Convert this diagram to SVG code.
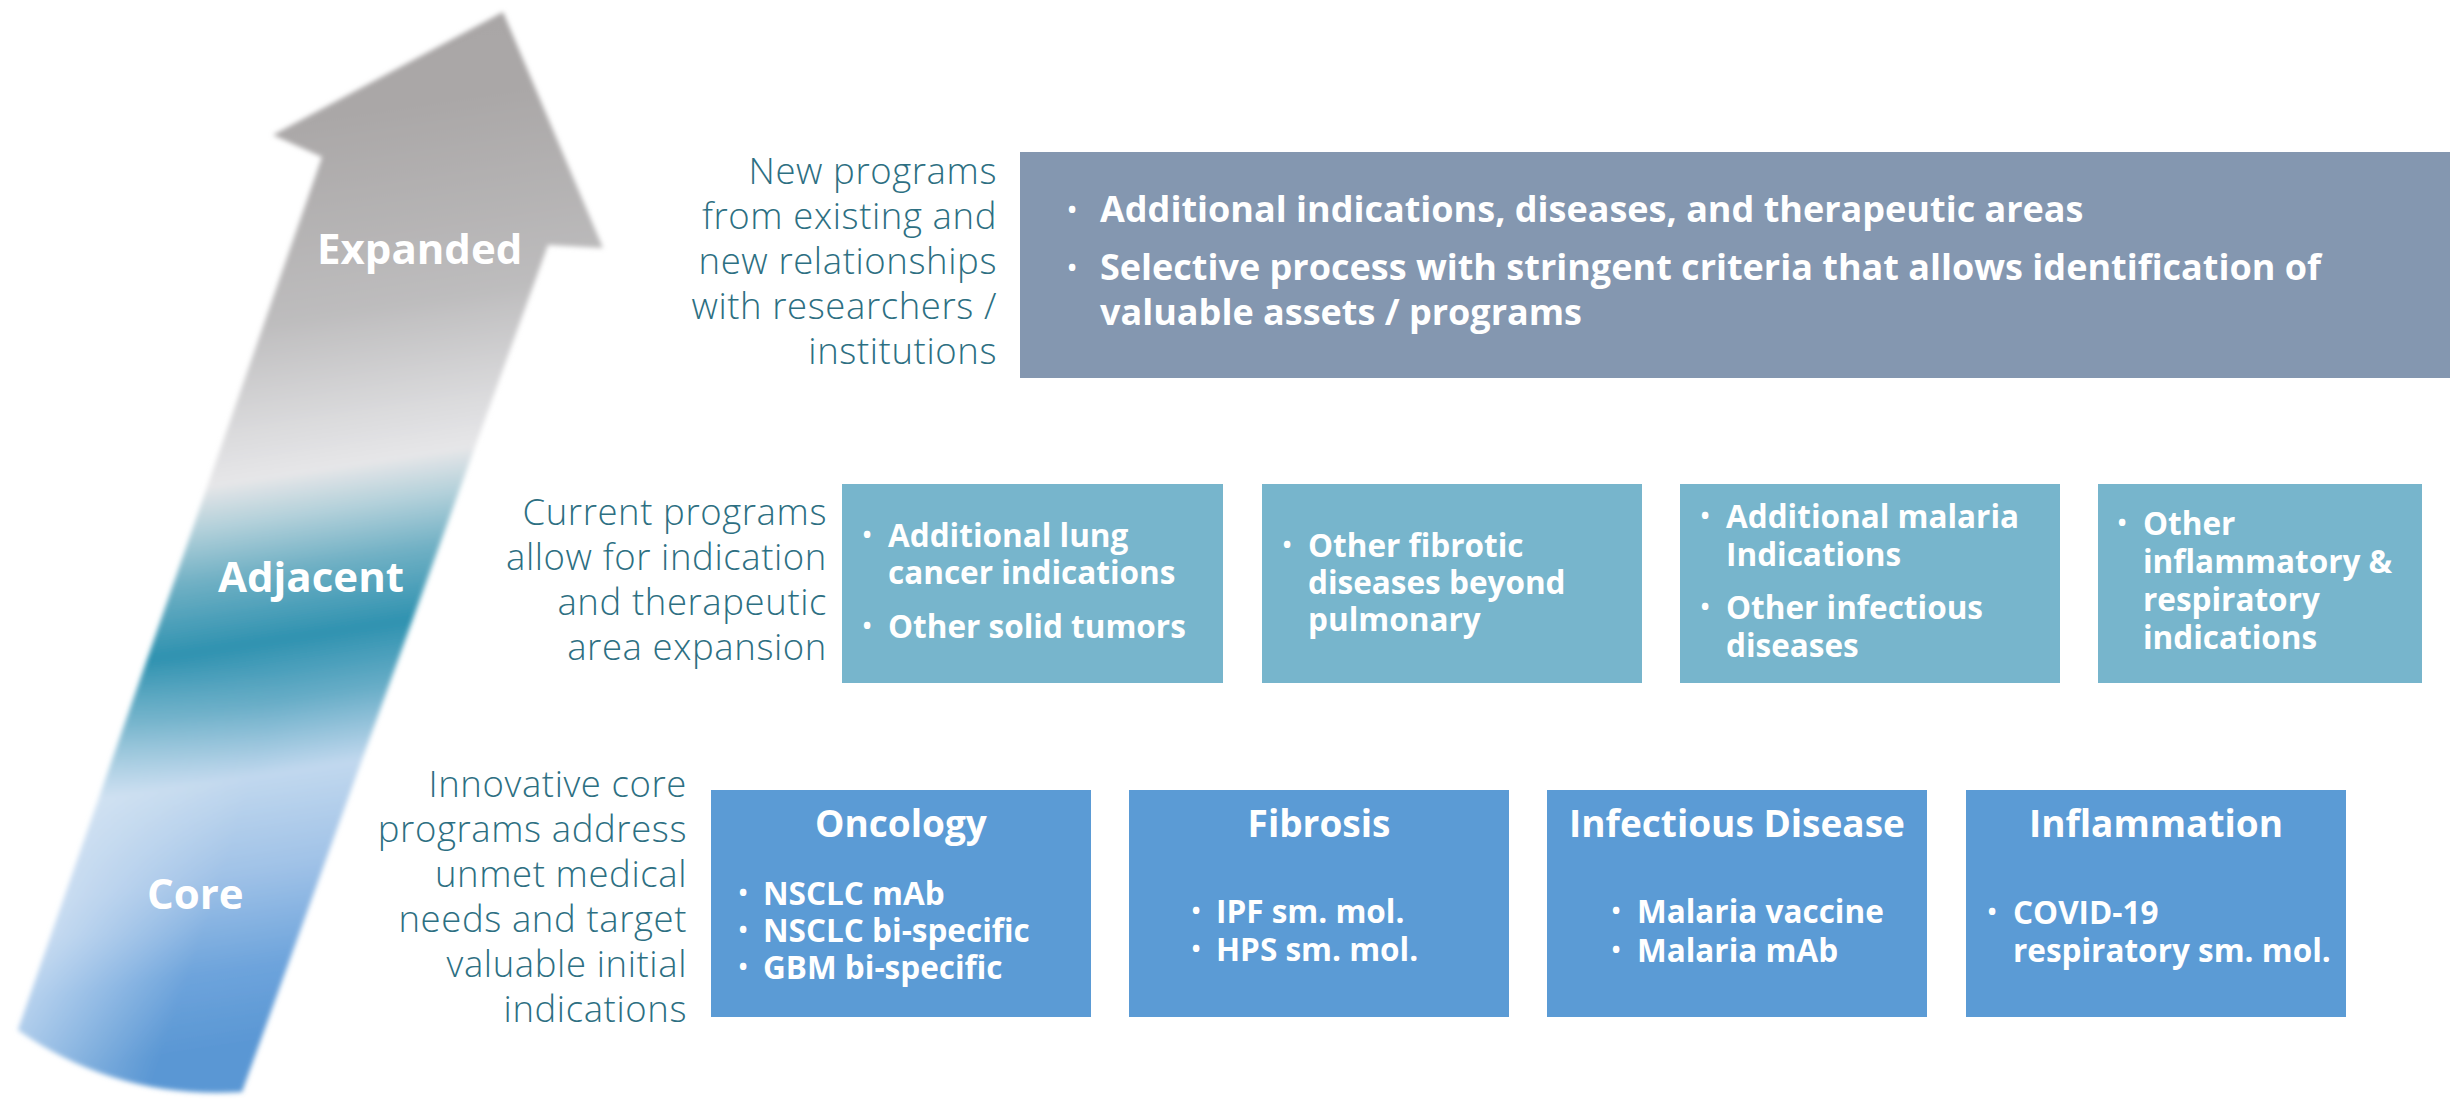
<svg xmlns="http://www.w3.org/2000/svg" width="2450" height="1100" viewBox="0 0 2450 1100">
  <style>
    .lbl { font-family: "Open Sans", "Liberation Sans", sans-serif; font-weight: 300; font-size: 36.5px; letter-spacing: 0.6px; fill: #2d6f82; text-anchor: end; }
    .stage { font-family: "Open Sans", "Liberation Sans", sans-serif; font-weight: 700; font-size: 42px; fill: #ffffff; }
    .ttl { font-family: "Open Sans", "Liberation Sans", sans-serif; font-weight: 700; font-size: 37px; fill: #ffffff; text-anchor: middle; }
    .txt { font-family: "Open Sans", "Liberation Sans", sans-serif; font-weight: 700; font-size: 31.5px; fill: #ffffff; }
    .big { font-size: 36px; }
    .dot { font-family: "Open Sans", "Liberation Sans", sans-serif; font-weight: 400; font-size: 31px; fill: #ffffff; text-anchor: middle; }
    .exp { fill: #8497b0; }
    .adj { fill: #77b5cc; }
    .core { fill: #5b9bd5; }
  </style>
  <defs>
    <!-- colour bands running up the growth arrow -->
    <linearGradient id="g-arrow" gradientUnits="userSpaceOnUse" x1="0" y1="0" x2="165" y2="1100">
      <stop offset="0" stop-color="#a8a5a5"/>
      <stop offset="0.147" stop-color="#aaa7a7"/>
      <stop offset="0.321" stop-color="#bdbcbd"/>
      <stop offset="0.422" stop-color="#dcdcde"/>
      <stop offset="0.46" stop-color="#e6e6e8"/>
      <stop offset="0.498" stop-color="#b2d0da"/>
      <stop offset="0.544" stop-color="#70b0c4"/>
      <stop offset="0.606" stop-color="#2f92b0"/>
      <stop offset="0.661" stop-color="#68adc7"/>
      <stop offset="0.724" stop-color="#c1d8ee"/>
      <stop offset="0.808" stop-color="#a0c2e7"/>
      <stop offset="0.892" stop-color="#6ea4dc"/>
      <stop offset="0.96" stop-color="#5a97d4"/>
      <stop offset="1" stop-color="#5a97d4"/>
    </linearGradient>
    <!-- lighter left flank of the shaft -->
    <linearGradient id="g-sheen" gradientUnits="userSpaceOnUse" x1="291" y1="245" x2="520" y2="325">
      <stop offset="0" stop-color="#ffffff" stop-opacity="0.5"/>
      <stop offset="0.6" stop-color="#ffffff" stop-opacity="0"/>
    </linearGradient>
    <linearGradient id="g-fade" gradientUnits="userSpaceOnUse" x1="0" y1="0" x2="0" y2="1100">
      <stop offset="0.6" stop-color="#000000"/>
      <stop offset="0.85" stop-color="#ffffff"/>
    </linearGradient>
    <mask id="m-lower">
      <rect x="0" y="0" width="700" height="1100" fill="url(#g-fade)"/>
    </mask>
    <filter id="soft" x="-10%" y="-5%" width="120%" height="110%">
      <feGaussianBlur stdDeviation="2.5"/>
    </filter>
    <path id="arrow-shape" d="M503,12 L603,248 L548,245 L242,1092 Q118,1100 18,1030 L322,157 L273,135 Z"/>
  </defs>

  <!-- growth arrow -->
  <g id="arrow">
    <g filter="url(#soft)">
      <use href="#arrow-shape" fill="url(#g-arrow)"/>
      <use href="#arrow-shape" fill="url(#g-sheen)" mask="url(#m-lower)"/>
    </g>
    <text class="stage" x="317" y="264">Expanded</text>
    <text class="stage" x="218" y="592">Adjacent</text>
    <text class="stage" x="147" y="909">Core</text>
  </g>

  <!-- tier descriptions -->
  <g id="label-expanded">
    <text class="lbl" x="997" y="184">New programs</text>
    <text class="lbl" x="997" y="229">from existing and</text>
    <text class="lbl" x="997" y="274">new relationships</text>
    <text class="lbl" x="997" y="319">with researchers /</text>
    <text class="lbl" x="997" y="364">institutions</text>
  </g>
  <g id="label-adjacent">
    <text class="lbl" x="827" y="525">Current programs</text>
    <text class="lbl" x="827" y="570">allow for indication</text>
    <text class="lbl" x="827" y="615">and therapeutic</text>
    <text class="lbl" x="827" y="660">area expansion</text>
  </g>
  <g id="label-core">
    <text class="lbl" x="687" y="797">Innovative core</text>
    <text class="lbl" x="687" y="842">programs address</text>
    <text class="lbl" x="687" y="887">unmet medical</text>
    <text class="lbl" x="687" y="932">needs and target</text>
    <text class="lbl" x="687" y="977">valuable initial</text>
    <text class="lbl" x="687" y="1022">indications</text>
  </g>

  <!-- expanded tier -->
  <g id="box-expanded">
    <rect class="exp" x="1020" y="152" width="1430" height="226"/>
    <text class="dot" x="1072" y="221">•</text>
    <text class="txt big" x="1100" y="222">Additional indications, diseases, and therapeutic areas</text>
    <text class="dot" x="1072" y="279">•</text>
    <text class="txt big" x="1100" y="280">Selective process with stringent criteria that allows identification of</text>
    <text class="txt big" x="1100" y="325">valuable assets / programs</text>
  </g>

  <!-- adjacent tier -->
  <g id="box-adj-lung">
    <rect class="adj" x="842" y="484" width="381" height="199"/>
    <text class="dot" x="867" y="546">•</text>
    <text class="txt" x="888" y="547">Additional lung</text>
    <text class="txt" x="888" y="584">cancer indications</text>
    <text class="dot" x="867" y="637">•</text>
    <text class="txt" x="888" y="638">Other solid tumors</text>
  </g>
  <g id="box-adj-fibrotic">
    <rect class="adj" x="1262" y="484" width="380" height="199"/>
    <text class="dot" x="1287" y="556">•</text>
    <text class="txt" x="1308" y="557">Other fibrotic</text>
    <text class="txt" x="1308" y="594">diseases beyond</text>
    <text class="txt" x="1308" y="631">pulmonary</text>
  </g>
  <g id="box-adj-malaria">
    <rect class="adj" x="1680" y="484" width="380" height="199"/>
    <text class="dot" x="1705" y="527">•</text>
    <text class="txt" x="1726" y="528">Additional malaria</text>
    <text class="txt" x="1726" y="566">Indications</text>
    <text class="dot" x="1705" y="618">•</text>
    <text class="txt" x="1726" y="619">Other infectious</text>
    <text class="txt" x="1726" y="657">diseases</text>
  </g>
  <g id="box-adj-inflammatory">
    <rect class="adj" x="2098" y="484" width="324" height="199"/>
    <text class="dot" x="2122" y="534">•</text>
    <text class="txt" x="2143" y="535">Other</text>
    <text class="txt" x="2143" y="573">inflammatory &amp;</text>
    <text class="txt" x="2143" y="611">respiratory</text>
    <text class="txt" x="2143" y="649">indications</text>
  </g>

  <!-- core tier -->
  <g id="box-oncology">
    <rect class="core" x="711" y="790" width="380" height="227"/>
    <text class="ttl" x="901" y="837">Oncology</text>
    <text class="dot" x="743" y="904">•</text>
    <text class="txt" x="763" y="905">NSCLC mAb</text>
    <text class="dot" x="743" y="941">•</text>
    <text class="txt" x="763" y="942">NSCLC bi-specific</text>
    <text class="dot" x="743" y="978">•</text>
    <text class="txt" x="763" y="979">GBM bi-specific</text>
  </g>
  <g id="box-fibrosis">
    <rect class="core" x="1129" y="790" width="380" height="227"/>
    <text class="ttl" x="1319" y="837">Fibrosis</text>
    <text class="dot" x="1196" y="922">•</text>
    <text class="txt" x="1216" y="923">IPF sm. mol.</text>
    <text class="dot" x="1196" y="960">•</text>
    <text class="txt" x="1216" y="961">HPS sm. mol.</text>
  </g>
  <g id="box-infectious">
    <rect class="core" x="1547" y="790" width="380" height="227"/>
    <text class="ttl" x="1737" y="837">Infectious Disease</text>
    <text class="dot" x="1616" y="922">•</text>
    <text class="txt" x="1637" y="923">Malaria vaccine</text>
    <text class="dot" x="1616" y="961">•</text>
    <text class="txt" x="1637" y="962">Malaria mAb</text>
  </g>
  <g id="box-inflammation">
    <rect class="core" x="1966" y="790" width="380" height="227"/>
    <text class="ttl" x="2156" y="837">Inflammation</text>
    <text class="dot" x="1992" y="923">•</text>
    <text class="txt" x="2013" y="924">COVID-19</text>
    <text class="txt" x="2013" y="962">respiratory sm. mol.</text>
  </g>

  <!-- no connectors between the tiers -->
  <g id="connectors"/>
</svg>
